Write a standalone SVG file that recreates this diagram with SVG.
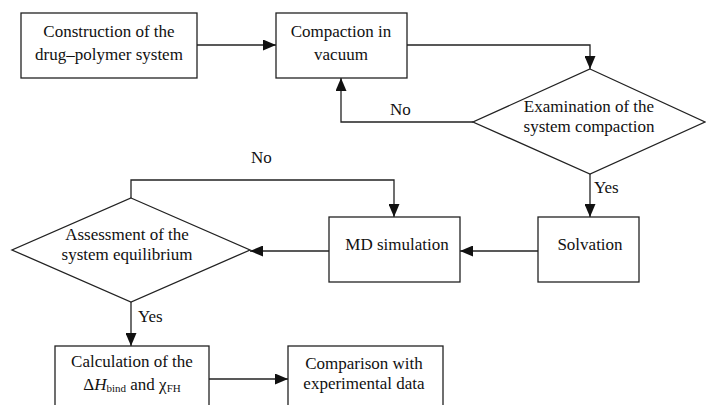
<svg xmlns="http://www.w3.org/2000/svg" width="706" height="405" viewBox="0 0 706 405">
<style>
.n{fill:#fff;stroke:#222;stroke-width:1.3}
.t{font-family:"Liberation Serif","Times New Roman",serif;font-size:17px;fill:#111;text-anchor:middle}
.l{font-family:"Liberation Serif","Times New Roman",serif;font-size:17px;fill:#111}
.c{fill:none;stroke:#222;stroke-width:1.3}
.s{font-size:11px}
</style>
<defs>
<marker id="a" markerWidth="13" markerHeight="11" refX="13" refY="5.5" orient="auto" markerUnits="userSpaceOnUse">
<path d="M0,0 L13,5.5 L0,11 Z" fill="#111"/>
</marker>
</defs>
<rect width="706" height="405" fill="#fff"/>
<g id="connectors">
<path class="c" d="M197,45 H276" marker-end="url(#a)"/>
<path class="c" d="M407,45 H590 V69" marker-end="url(#a)"/>
<path class="c" d="M473,122 H341 V78" marker-end="url(#a)"/>
<path class="c" d="M590,174 V217" marker-end="url(#a)"/>
<path class="c" d="M538,251 H460" marker-end="url(#a)"/>
<path class="c" d="M329,251 H250" marker-end="url(#a)"/>
<path class="c" d="M131,198 V180 H394 V217" marker-end="url(#a)"/>
<path class="c" d="M131,302 V346" marker-end="url(#a)"/>
<path class="c" d="M209,379 H288" marker-end="url(#a)"/>
<text class="l" x="390" y="115">No</text>
<text class="l" x="594" y="193">Yes</text>
<text class="l" x="251" y="163">No</text>
<text class="l" x="138" y="322">Yes</text>
</g>
<g id="construction">
<rect class="n" x="21" y="13" width="176" height="65"/>
<text class="t" x="109" y="37">Construction of the</text>
<text class="t" x="109" y="60">drug–polymer system</text>
</g>
<g id="compaction">
<rect class="n" x="276" y="13" width="131" height="65"/>
<text class="t" x="341" y="37">Compaction in</text>
<text class="t" x="341" y="60">vacuum</text>
</g>
<g id="examination">
<polygon class="n" points="590,69 705,122 590,174 473,122"/>
<text class="t" x="589" y="112">Examination of the</text>
<text class="t" x="589" y="132">system compaction</text>
</g>
<g id="solvation">
<rect class="n" x="538" y="217" width="101" height="65"/>
<text class="t" x="590" y="250">Solvation</text>
</g>
<g id="md">
<rect class="n" x="329" y="217" width="131" height="65"/>
<text class="t" x="397" y="250">MD simulation</text>
</g>
<g id="assessment">
<polygon class="n" points="131,198 250,250 131,302 12,250"/>
<text class="t" x="127" y="240">Assessment of the</text>
<text class="t" x="127" y="260">system equilibrium</text>
</g>
<g id="calculation">
<rect class="n" x="55" y="346" width="154" height="70"/>
<text class="t" x="132" y="367">Calculation of the</text>
<text class="t" x="132" y="390">Δ<tspan font-style="italic">H</tspan><tspan class="s" dy="2">bind</tspan><tspan dy="-2"> and χ</tspan><tspan class="s" dy="2">FH</tspan></text>
</g>
<g id="comparison">
<rect class="n" x="288" y="346" width="155" height="70"/>
<text class="t" x="364" y="369">Comparison with</text>
<text class="t" x="364" y="389">experimental data</text>
</g>
</svg>
